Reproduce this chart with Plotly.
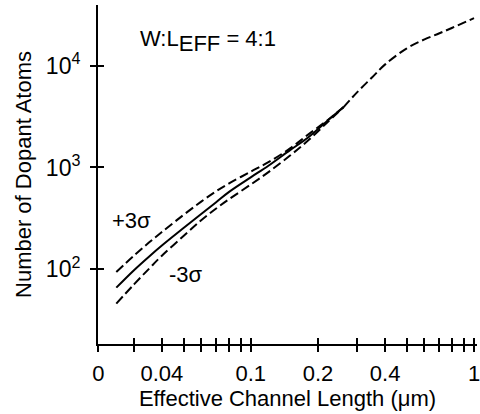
import plotly.graph_objects as go

# Channel lengths (um) where the +/-3 sigma spread is resolved
x_split = [0.025, 0.03, 0.035, 0.04, 0.05, 0.06, 0.07, 0.08, 0.1, 0.12, 0.15, 0.18, 0.22, 0.26]
n_plus = [94, 136, 183, 232, 342, 462, 584, 697, 910, 1127, 1538, 2089, 2897, 3900]
n_mean = [66, 98, 133, 171, 254, 349, 456, 576, 800, 1040, 1480, 1960, 2864, 3900]
n_minus = [46, 71, 101, 136, 212, 303, 395, 488, 680, 900, 1309, 1828, 2767, 3900]

# Longer channels: the spread collapses onto a single curve
x_tail = [0.26, 0.3, 0.35, 0.4, 0.5, 0.6, 0.7, 0.8, 1.0]
n_tail = [3900, 5500, 7700, 10300, 14800, 18100, 20800, 23600, 29300]

# Axis ticks
x_ticks = [0.0208, 0.03, 0.04, 0.05, 0.06, 0.07, 0.08, 0.09, 0.1,
           0.2, 0.3, 0.4, 0.5, 0.6, 0.7, 0.8, 0.9, 1.0]
x_tick_text = ["0", "", "0.04", "", "", "", "", "", "0.1",
               "0.2", "", "0.4", "", "", "", "", "", "1"]
y_ticks = [100, 1000, 10000]
y_tick_text = ["10<sup>2</sup>", "10<sup>3</sup>", "10<sup>4</sup>"]

FONT = "Arial, Liberation Sans, sans-serif"
X_RANGE = [-1.684, 0.0133]
Y_RANGE = [1.266, 4.596]
DASH = "9px,4px"

fig = go.Figure()
fig.add_trace(go.Scatter(x=x_split, y=n_plus, mode="lines",
                         line=dict(color="black", width=2, dash=DASH, shape="spline")))
fig.add_trace(go.Scatter(x=x_split, y=n_mean, mode="lines",
                         line=dict(color="black", width=2, shape="spline")))
fig.add_trace(go.Scatter(x=x_split, y=n_minus, mode="lines",
                         line=dict(color="black", width=2, dash=DASH, shape="spline")))
fig.add_trace(go.Scatter(x=x_tail, y=n_tail, mode="lines", xaxis="x2", yaxis="y2",
                         line=dict(color="black", width=2, dash=DASH, shape="spline")))

common_x = dict(type="log", range=X_RANGE, tickvals=x_ticks, ticklen=6, tickwidth=2,
                tickcolor="black", showgrid=False, zeroline=False)
common_y = dict(type="log", range=Y_RANGE, tickvals=y_ticks, ticklen=6, tickwidth=2,
                tickcolor="black", showgrid=False, zeroline=False)

fig.update_layout(
    width=480, height=414,
    margin=dict(l=98, r=0, t=5, b=70),
    paper_bgcolor="white", plot_bgcolor="white",
    showlegend=False,
    font=dict(family=FONT, size=22, color="black"),
    xaxis=dict(**common_x, ticks="outside", ticktext=x_tick_text,
               showline=True, linecolor="black", linewidth=2,
               ticklabelstandoff=3, ticklabeloverflow="allow",
               tickfont=dict(family=FONT, size=22, color="black"),
               title=dict(text="Effective Channel Length (\u03bcm)", standoff=2,
                          font=dict(family=FONT, size=22, color="black"))),
    yaxis=dict(**common_y, ticks="outside", ticktext=y_tick_text,
               showline=True, linecolor="black", linewidth=2,
               ticklabelstandoff=5,
               tickfont=dict(family=FONT, size=23, color="black"),
               title=dict(text="Number of Dopant Atoms", standoff=8,
                          font=dict(family=FONT, size=22, color="black"))),
    xaxis2=dict(**common_x, overlaying="x", anchor="y", ticks="inside",
                showticklabels=False, showline=False),
    yaxis2=dict(**common_y, overlaying="y", anchor="x", side="left", ticks="inside",
                showticklabels=False, showline=False),
)

fig.add_annotation(x=0.089, y=0.363, xref="paper", yref="paper", text="+3\u03c3",
                   xanchor="center", yanchor="middle",
                   showarrow=False, font=dict(family=FONT, size=22, color="black"))
fig.add_annotation(x=0.233, y=0.206, xref="paper", yref="paper", text="-3\u03c3",
                   xanchor="center", yanchor="middle",
                   showarrow=False, font=dict(family=FONT, size=22, color="black"))
fig.add_annotation(x=0.105, y=0.894, xref="paper", yref="paper",
                   xanchor="left", yanchor="middle",
                   text="W:L<sub><span style=\"font-size:22px\">EFF</span></sub> = 4:1",
                   showarrow=False, font=dict(family=FONT, size=22, color="black"))

fig.write_html("out.html")
